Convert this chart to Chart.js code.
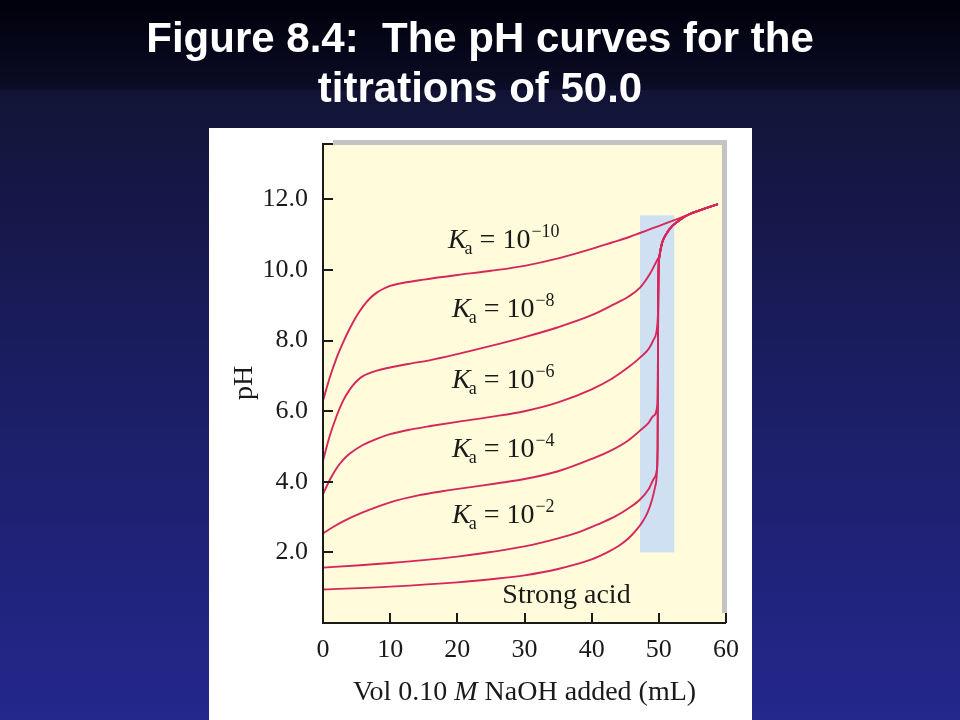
<!DOCTYPE html>
<html>
<head>
<meta charset="utf-8">
<script src="https://cdn.jsdelivr.net/npm/chart.js@4.4.0/dist/chart.umd.min.js"></script>
<style>
html,body{margin:0;padding:0;background:#000;}
#wrap{width:960px;height:720px;position:relative;overflow:hidden;}
canvas{display:block;}
</style>
</head>
<body>
<div id="wrap"><canvas id="c" width="960" height="720"></canvas></div>
<script>
// ---------- text ----------
const titleLines = ['Figure 8.4:  The pH curves for the', 'titrations of 50.0'];
const yAxisTitle = 'pH';
const xAxisTitleParts = ['Vol 0.10 ', 'M', ' NaOH added (mL)'];

// ---------- ticks ----------
const xTicks = [0, 10, 20, 30, 40, 50, 60];
const yTicks = [2, 4, 6, 8, 10, 12];

// ---------- series ----------
const strongX = [0, 10, 20, 25, 30, 35, 40, 42, 44, 45.5, 46.5, 47.5, 48.3, 49, 49.5];
const strongY = [0.95, 1.03, 1.15, 1.24, 1.35, 1.53, 1.8, 1.97, 2.18, 2.4, 2.6, 2.85, 3.12, 3.5, 3.9];

const ka2X = [0, 5, 10, 15, 20, 25, 30, 35, 38, 41, 43.5, 45.5, 47.2, 48.5, 49.3, 49.75];
const ka2Y = [1.57, 1.63, 1.7, 1.78, 1.88, 2.01, 2.17, 2.4, 2.57, 2.8, 3.02, 3.25, 3.5, 3.8, 4.1, 4.4];

const ka4X = [0, 1.5, 3, 6, 10, 14, 18, 22, 26, 30, 35, 40, 43, 45.5, 47.2, 48.5, 49.2, 49.8];
const ka4Y = [2.54, 2.72, 2.88, 3.14, 3.42, 3.61, 3.74, 3.85, 3.96, 4.08, 4.3, 4.65, 4.9, 5.18, 5.45, 5.68, 5.87, 6.2];

const ka6X = [0, 1, 2, 3, 4, 6, 8, 10, 13, 16, 20, 25, 30, 35, 40, 43, 45.5, 47.2, 48.5, 49.2, 49.8];
const ka6Y = [3.65, 4.05, 4.38, 4.62, 4.8, 5.05, 5.22, 5.35, 5.48, 5.58, 5.7, 5.84, 6.0, 6.25, 6.62, 6.92, 7.25, 7.52, 7.77, 8.02, 8.5];

const ka8X = [0, 1, 2, 3, 4, 5, 6, 8, 10, 13, 16, 20, 25, 30, 35, 40, 43, 45.5, 47.2, 48.7, 49.8];
const ka8Y = [4.6, 5.3, 5.85, 6.3, 6.62, 6.85, 7.0, 7.15, 7.24, 7.35, 7.45, 7.62, 7.85, 8.1, 8.38, 8.72, 9.0, 9.25, 9.5, 9.9, 10.3];

const ka10X = [0, 1, 2, 3, 4, 5, 6, 7, 8, 9, 10, 12, 15, 20, 25, 30, 35, 40, 43, 45.5, 47.2, 49, 51, 54.3, 56.5, 58.8];
const ka10Y = [6.3, 6.95, 7.5, 7.95, 8.35, 8.7, 8.98, 9.2, 9.36, 9.47, 9.55, 9.64, 9.73, 9.86, 9.98, 10.12, 10.33, 10.6, 10.78, 10.93, 11.05, 11.18, 11.32, 11.56, 11.72, 11.87];

// common part after the equivalence point (excess base)
const tailX = [49.82, 49.86, 49.9, 49.96, 50.1, 50.5, 51.2, 52.0, 52.7, 53.5, 54.3, 56.5, 58.8];
const tailY = [5.0, 7.0, 9.0, 10.0, 10.4, 10.78, 11.05, 11.25, 11.36, 11.47, 11.56, 11.72, 11.87];

// equivalence-point band
const bandX = [47.2, 52.3];
const bandY = [2.0, 11.55];

// curve labels: exponent text (or plain text), anchor in data units
const curveLabels = [
  {exp: '\u221210', x: 18.6, y: 10.62},
  {exp: '\u22128',  x: 19.2, y: 8.67},
  {exp: '\u22126',  x: 19.2, y: 6.66},
  {exp: '\u22124',  x: 19.2, y: 4.70},
  {exp: '\u22122',  x: 19.2, y: 2.83},
  {text: 'Strong acid', x: 26.7, y: 0.57}
];

function buildSeries(xs, ys, withTail) {
  const pts = xs.map((x, i) => ({x: x, y: ys[i]}));
  if (withTail) {
    const last = pts[pts.length - 1];
    tailX.forEach((x, i) => { if (x > last.x && tailY[i] > last.y) pts.push({x: x, y: tailY[i]}); });
  }
  return pts;
}

const seriesList = [
  buildSeries(strongX, strongY, true),
  buildSeries(ka2X, ka2Y, true),
  buildSeries(ka4X, ka4Y, true),
  buildSeries(ka6X, ka6Y, true),
  buildSeries(ka8X, ka8Y, true),
  buildSeries(ka10X, ka10Y, false)
];

const SERIF = '"Liberation Serif", "DejaVu Serif", serif';
const LINE = '#d6275b';

const backgroundPlugin = {
  id: 'bg',
  beforeDraw(chart) {
    const c = chart.ctx, W = chart.width, H = chart.height;
    const a = chart.chartArea;
    const xs = chart.scales.x, ys = chart.scales.y;
    c.save();
    const g = c.createLinearGradient(0, 0, 0, H);
    g.addColorStop(0, '#00000a');
    g.addColorStop(0.124, '#0b0c26');
    g.addColorStop(0.126, '#121436');
    g.addColorStop(0.5, '#1a1d60');
    g.addColorStop(1, '#24278c');
    c.fillStyle = g;
    c.fillRect(0, 0, W, H);
    c.fillStyle = '#ffffff';
    c.font = 'bold 42px "Liberation Sans", Arial, sans-serif';
    c.textAlign = 'center';
    c.textBaseline = 'alphabetic';
    c.fillText(titleLines[0], 480, 52);
    c.fillText(titleLines[1], 480, 102);
    c.fillStyle = '#ffffff';
    c.fillRect(209, 128, 543, 600);
    c.fillStyle = '#fffbdb';
    c.fillRect(a.left, a.top, a.right - a.left, a.bottom - a.top);
    c.fillStyle = '#cfe0f2';
    const bx0 = xs.getPixelForValue(bandX[0]), bx1 = xs.getPixelForValue(bandX[1]);
    const by0 = ys.getPixelForValue(bandY[1]), by1 = ys.getPixelForValue(bandY[0]);
    c.fillRect(bx0, by0, bx1 - bx0, by1 - by0);
    c.strokeStyle = '#c4c4c2';
    c.lineWidth = 5;
    c.beginPath();
    c.moveTo(a.left + 10, a.top - 0.5);
    c.lineTo(a.right - 1.5, a.top - 0.5);
    c.lineTo(a.right - 1.5, a.bottom - 10);
    c.stroke();
    c.restore();
  },
  afterDatasetsDraw(chart) {
    const c = chart.ctx, a = chart.chartArea;
    const xs = chart.scales.x, ys = chart.scales.y;
    c.save();
    c.strokeStyle = '#1a1a1a';
    c.lineWidth = 2;
    c.beginPath();
    c.moveTo(a.left, a.top);
    c.lineTo(a.left, a.bottom);
    c.lineTo(a.right, a.bottom);
    c.stroke();
    c.beginPath();
    yTicks.forEach(v => { const y = Math.round(ys.getPixelForValue(v)); c.moveTo(a.left, y); c.lineTo(a.left + 10, y); });
    c.moveTo(a.left, a.top + 1); c.lineTo(a.left + 10, a.top + 1);
    xTicks.forEach(v => { if (v === 0) return; const x = Math.round(xs.getPixelForValue(v)); c.moveTo(x, a.bottom); c.lineTo(x, a.bottom - 10); });
    c.stroke();
    c.fillStyle = '#1a1a1a';
    c.textAlign = 'left';
    c.textBaseline = 'alphabetic';
    curveLabels.forEach(l => {
      let x = xs.getPixelForValue(l.x);
      const y = ys.getPixelForValue(l.y);
      if (l.text) {
        c.font = '28px ' + SERIF;
        c.fillText(l.text, x, y);
        return;
      }
      c.font = 'italic 28px ' + SERIF;
      c.fillText('K', x, y);
      x += c.measureText('K').width - 2;
      c.font = '18px ' + SERIF;
      c.fillText('a', x, y + 6);
      x += c.measureText('a').width;
      c.font = '28px ' + SERIF;
      const mid = ' = 10';
      c.fillText(mid, x, y);
      x += c.measureText(mid).width + 1;
      c.font = '18px ' + SERIF;
      c.fillText(l.exp, x, y - 11);
    });
    const fonts = ['28px ' + SERIF, 'italic 28px ' + SERIF, '28px ' + SERIF];
    let total = 0;
    const widths = xAxisTitleParts.map((t, i) => { c.font = fonts[i]; const w = c.measureText(t).width; total += w; return w; });
    let tx = (a.left + a.right) / 2 - total / 2;
    xAxisTitleParts.forEach((t, i) => { c.font = fonts[i]; c.fillText(t, tx, 700); tx += widths[i]; });
    c.restore();
  }
};

new Chart(document.getElementById('c').getContext('2d'), {
  type: 'line',
  data: {
    datasets: seriesList.map(pts => ({
      data: pts,
      borderColor: LINE,
      borderWidth: 1.9,
      pointRadius: 0,
      fill: false,
      cubicInterpolationMode: 'monotone'
    }))
  },
  options: {
    responsive: false,
    animation: false,
    devicePixelRatio: 1,
    parsing: false,
    layout: {padding: {left: 223, right: 234, top: 143, bottom: 7}},
    plugins: {legend: {display: false}, tooltip: {enabled: false}, title: {display: false}},
    scales: {
      x: {
        type: 'linear', min: 0, max: 60,
        afterBuildTicks: s => { s.ticks = xTicks.map(v => ({value: v})); },
        afterFit: s => { s.height = 90; },
        grid: {display: false, drawTicks: false},
        border: {display: false},
        ticks: {color: '#1a1a1a', font: {family: SERIF, size: 26}, padding: 12, maxRotation: 0, autoSkip: false,
                callback: v => String(v)}
      },
      y: {
        type: 'linear', min: 0, max: 13.6,
        afterBuildTicks: s => { s.ticks = yTicks.map(v => ({value: v})); },
        afterFit: s => { s.width = 100; },
        grid: {display: false, drawTicks: false},
        border: {display: false},
        ticks: {color: '#1a1a1a', font: {family: SERIF, size: 26}, padding: 15, autoSkip: false,
                callback: v => Number(v).toFixed(1)},
        title: {display: true, text: yAxisTitle, color: '#1a1a1a', font: {family: SERIF, size: 28}, padding: {top: 5, bottom: 0}}
      }
    }
  },
  plugins: [backgroundPlugin]
});
</script>
</body>
</html>
